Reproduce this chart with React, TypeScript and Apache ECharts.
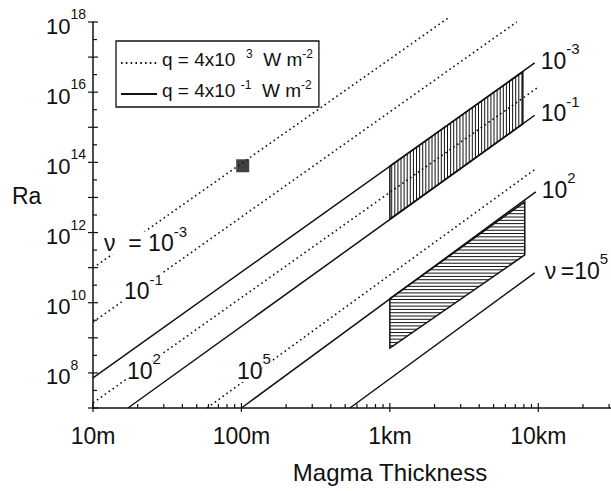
import React, { useEffect, useRef } from 'react';
import * as echarts from 'echarts';

const FONT = "'Liberation Sans', Arial, Helvetica, sans-serif";
const INK = '#111111';

// ---------------- data ----------------
const legendDotted = 'q = 4x10^3 W m^-2';
const legendSolid = 'q = 4x10^-1 W m^-2';

// viscosity exponents of the four lines of each family
const viscosityExp = ['-3', '-1', '2', '5'];

// dotted lines (q = 4x10^3 W m^-2): [magma thickness (m), Ra] at start and end
const dottedStart = [[10, 9.8e10], [10, 2.8e9], [10, 1.4e7], [58.6, 1e7]];
const dottedEnd = [[2535, 1.4e18], [7160, 1.0e18], [9770, 1.3e16], [9770, 6.9e13]];

// solid lines (q = 4x10^-1 W m^-2)
const solidStart = [[10, 7.2e7], [17.2, 1e7], [100, 1e7], [538, 1e7]];
const solidEnd = [[9460, 6.8e16], [9460, 2.2e15], [9620, 1.45e13], [9460, 7.1e10]];

// hatched regions, corners [thickness (m), Ra]: top-left, top-right, bottom-right, bottom-left
const verticalHatch = [[1000, 7.8e13], [7870, 3.8e16], [7870, 1.25e15], [1000, 2.4e12]];
const horizontalHatch = [[1000, 1.3e10], [8110, 7.5e12], [8110, 2.3e11], [1000, 5.1e8]];

// filled square marker
const marker = [[102, 8.0e13]];

// axis ticks
const xTickNames: Record<number, string> = { 1: '10m', 2: '100m', 3: '1km', 4: '10km' };
const xMajorTicks = [10, 100, 1000, 10000];
const xMinorTicks = [20, 30, 40, 50, 60, 70, 80, 90, 200, 300, 400, 500, 600, 700, 800, 900,
  2000, 3000, 4000, 5000, 6000, 7000, 8000, 9000, 20000, 30000];
const yDecades = [7, 8, 9, 10, 11, 12, 13, 14, 15, 16, 17, 18];

// ---------------- styles / layout ----------------
const RICH_IN = {
  b: { fontSize: 23, lineHeight: 31, verticalAlign: 'bottom', fontFamily: FONT, color: INK, fill: INK },
  s: { fontSize: 15, lineHeight: 15, verticalAlign: 'top', fontFamily: FONT, color: INK, fill: INK },
};
const RICH_LEFT = {
  b: { ...RICH_IN.b, backgroundColor: '#fff' },
  s: { ...RICH_IN.s, backgroundColor: '#fff' },
};
const RICH_Y = {
  b: { fontSize: 22, lineHeight: 30, verticalAlign: 'bottom', fontFamily: FONT, color: INK },
  s: { fontSize: 14, lineHeight: 14, verticalAlign: 'top', fontFamily: FONT, color: INK },
};
const RICH_LEG = {
  b: { fontSize: 19, lineHeight: 30, padding: [2, 0, 0, 0], verticalAlign: 'top', fontFamily: FONT, color: INK },
  s: { fontSize: 12, lineHeight: 12, verticalAlign: 'top', fontFamily: FONT, color: INK },
};

// left-hand labels sitting on the dotted lines (pixel anchors)
const leftLabelBase = ['ν  = 10', '10', '10', '10'];
const leftLabelPos = [[104, 239], [124, 287], [127, 366.5], [237, 366.5]];

function hatchSegments(pts: number[][], vertical: boolean, step: number) {
  const segs: number[][] = [];
  const a = vertical ? 0 : 1;
  const b = 1 - a;
  const lo = Math.min(...pts.map((p) => p[a]));
  const hi = Math.max(...pts.map((p) => p[a]));
  for (let s = lo + step * 0.6; s < hi - 0.5; s += step) {
    const hits: number[] = [];
    for (let i = 0; i < pts.length; i++) {
      const p = pts[i];
      const q = pts[(i + 1) % pts.length];
      if (p[a] === q[a]) continue;
      if ((p[a] - s) * (q[a] - s) <= 0) {
        const t = (s - p[a]) / (q[a] - p[a]);
        hits.push(p[b] + t * (q[b] - p[b]));
      }
    }
    if (hits.length >= 2) {
      const m = Math.min(...hits);
      const M = Math.max(...hits);
      segs.push(vertical ? [s, m, s, M] : [m, s, M, s]);
    }
  }
  return segs;
}

function buildOption() {
  const series: any[] = [];

  // hatched regions
  const regions = [verticalHatch, horizontalHatch];
  series.push({
    type: 'custom',
    name: 'hatch',
    silent: true,
    z: 2,
    data: regions.map((r, i) => [r[0][0], r[0][1], i]),
    encode: { x: 0, y: 1 },
    renderItem: (params: any, api: any) => {
      const idx = params.dataIndex;
      const poly = regions[idx];
      const pts = poly.map((p) => api.coord(p));
      const vertical = idx === 0;
      const segs = hatchSegments(pts, vertical, vertical ? 3.1 : 3.3);
      return {
        type: 'group',
        children: [
          ...segs.map((s) => ({
            type: 'line',
            shape: { x1: s[0], y1: s[1], x2: s[2], y2: s[3] },
            style: { stroke: INK, lineWidth: 1 },
          })),
          {
            type: 'polygon',
            shape: { points: pts },
            style: { fill: 'none', stroke: INK, lineWidth: 1.5 },
          },
        ],
      };
    },
  });

  // tick marks
  const tickData = [
    ...xMajorTicks.map((v) => [v, 1e7, 1]),
    ...xMinorTicks.map((v) => [v, 1e7, 0]),
    ...yDecades.map((e) => [10, Math.pow(10, e), 3]),
    ...yDecades.slice(0, -1).map((e) => [10, Math.pow(10, e + 0.5), 2]),
  ];
  series.push({
    type: 'custom',
    name: 'ticks',
    silent: true,
    z: 4,
    data: tickData,
    encode: { x: 0, y: 1 },
    renderItem: (params: any, api: any) => {
      const p = api.coord([api.value(0), api.value(1)]);
      const k = api.value(2);
      let shape;
      if (k === 0) shape = { x1: p[0], y1: p[1], x2: p[0], y2: p[1] - 4 };
      else if (k === 1) shape = { x1: p[0], y1: p[1] + 4, x2: p[0], y2: p[1] - 5 };
      else if (k === 2) shape = { x1: p[0], y1: p[1], x2: p[0] + 4, y2: p[1] };
      else shape = { x1: p[0] - 5, y1: p[1], x2: p[0] + 5, y2: p[1] };
      return { type: 'line', shape, style: { stroke: INK, lineWidth: 1.2 } };
    },
  });

  // dotted family
  viscosityExp.forEach((e, i) => {
    series.push({
      type: 'line',
      name: legendDotted,
      data: [dottedStart[i], dottedEnd[i]],
      symbol: 'none',
      clip: false,
      silent: true,
      z: 3,
      itemStyle: { color: INK },
      lineStyle: { color: INK, width: 1.6, type: [1.6, 3.2], cap: 'butt' },
    });
  });

  // solid family, labelled at their right ends
  viscosityExp.forEach((e, i) => {
    series.push({
      type: 'line',
      name: legendSolid,
      data: [solidStart[i], solidEnd[i]],
      symbol: 'none',
      clip: false,
      silent: true,
      z: 3,
      itemStyle: { color: INK },
      lineStyle: { color: INK, width: 1.5 },
      endLabel: {
        show: true,
        distance: 6,
        offset: [i === 3 ? 4 : 0, -6],
        formatter: i === 3 ? `{b|ν\u2009=10}{s|${e}}` : `{b|10}{s|${e}}`,
        rich: RICH_IN,
      },
    });
  });

  // square marker
  series.push({
    type: 'scatter',
    name: 'marker',
    data: marker,
    symbol: 'rect',
    symbolSize: 13,
    silent: true,
    z: 5,
    itemStyle: { color: INK },
  });

  const graphics: any[] = leftLabelBase.map((base, i) => ({
    type: 'text',
    x: leftLabelPos[i][0],
    y: leftLabelPos[i][1],
    z: 50,
    silent: true,
    style: {
      text: `{b|${base}}{s|${viscosityExp[i]}}`,
      rich: RICH_LEFT,
      align: 'left',
      verticalAlign: 'middle',
      textAlign: 'left',
      textVerticalAlign: 'middle',
      fill: INK,
    },
  }));
  graphics.push({
    type: 'text',
    x: 12,
    y: 196,
    z: 50,
    silent: true,
    style: {
      text: 'Ra',
      fontSize: 23,
      fontFamily: FONT,
      fill: INK,
      align: 'left',
      verticalAlign: 'middle',
      textAlign: 'left',
      textVerticalAlign: 'middle',
    },
  });

  return {
    animation: false,
    backgroundColor: '#ffffff',
    textStyle: { fontFamily: FONT, color: INK },
    grid: { left: 93, top: 22, right: 0, bottom: 83, containLabel: false, outerBoundsMode: 'none' },
    legend: {
      orient: 'vertical',
      left: 116,
      top: 41,
      padding: [7, 6, 7, 4],
      itemGap: 10,
      itemWidth: 36,
      itemHeight: 14,
      borderColor: INK,
      borderWidth: 1.3,
      backgroundColor: '#fff',
      selectedMode: false,
      itemStyle: { opacity: 0 },
      lineStyle: { color: INK },
      data: [legendDotted, legendSolid],
      formatter: (name: string) =>
        name === legendDotted
          ? '{b|q = 4x10  }{s|3}{b|  W m}{s|-2}'
          : '{b|q = 4x10 }{s|-1}{b|  W m}{s|-2}',
      textStyle: { fontFamily: FONT, fontSize: 19, color: INK, rich: RICH_LEG },
    },
    xAxis: {
      type: 'log',
      logBase: 10,
      min: 10,
      max: 30900,
      name: 'Magma Thickness',
      nameLocation: 'middle',
      nameGap: 52,
      nameTextStyle: { fontFamily: FONT, fontSize: 24, color: INK, padding: [0, 0, 0, 76] },
      axisLine: { onZero: false, lineStyle: { color: INK, width: 1.5 } },
      axisTick: { show: false },
      minorTick: { show: false },
      splitLine: { show: false },
      axisLabel: {
        interval: 0,
        margin: 16,
        fontSize: 23,
        fontFamily: FONT,
        color: INK,
        formatter: (v: number) => {
          const l = Math.log10(v);
          const e = Math.round(l);
          return Math.abs(l - e) < 1e-6 && xTickNames[e] ? xTickNames[e] : '';
        },
      },
    },
    yAxis: {
      type: 'log',
      logBase: 10,
      min: 1e7,
      max: 1e18,
      interval: 1,
      axisLine: { onZero: false, lineStyle: { color: INK, width: 1.5 } },
      axisTick: { show: false },
      minorTick: { show: false },
      splitLine: { show: false },
      axisLabel: {
        interval: 0,
        align: 'left',
        margin: 47,
        color: INK,
        rich: RICH_Y,
        formatter: (v: number) => {
          const l = Math.log10(v);
          const e = Math.round(l);
          if (Math.abs(l - e) > 1e-6 || e % 2 !== 0) return '';
          return `{b|10}{s|${e}}`;
        },
      },
    },
    graphic: graphics,
    series,
  };
}

export default function App() {
  const ref = useRef<HTMLDivElement>(null);
  useEffect(() => {
    if (!ref.current) return;
    const chart = echarts.init(ref.current, undefined, { renderer: 'svg' });
    chart.setOption(buildOption() as any);
    return () => chart.dispose();
  }, []);
  return (
    <div
      ref={ref}
      style={{ position: 'absolute', left: 0, top: 0, width: 611, height: 491, background: '#fff' }}
    />
  );
}
